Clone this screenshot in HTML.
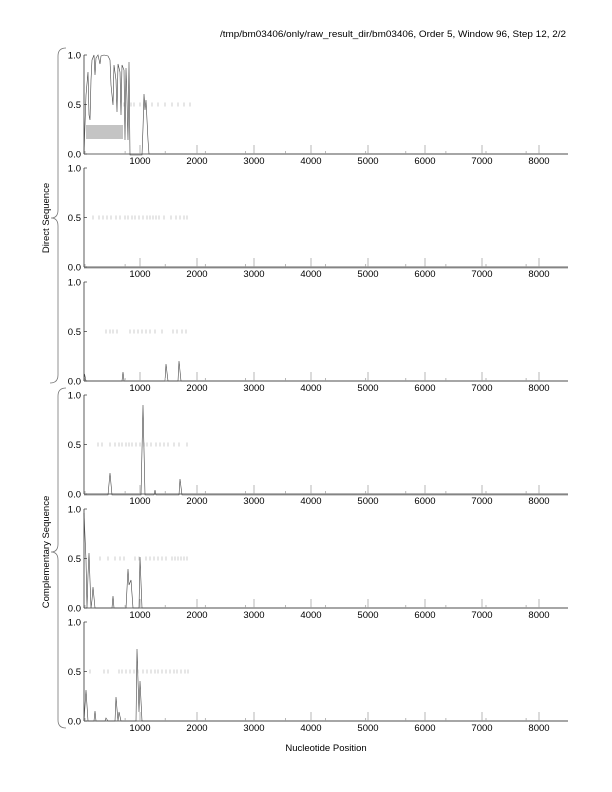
<!DOCTYPE html>
<html><head><meta charset="utf-8"><style>
html,body{margin:0;padding:0;background:#fff;}
svg{display:block;font-family:"Liberation Sans",sans-serif;}
</style></head><body>
<svg id="s" width="612" height="792" viewBox="0 0 612 792" xmlns="http://www.w3.org/2000/svg">
<text x="566" y="37" font-size="9.5" text-anchor="end" textLength="346" lengthAdjust="spacingAndGlyphs">/tmp/bm03406/only/raw_result_dir/bm03406, Order 5, Window 96, Step 12, 2/2</text>
<text x="326" y="751" font-size="9.5" text-anchor="middle">Nucleotide Position</text>
<text transform="translate(49,218) rotate(-90)" font-size="9.5" text-anchor="middle">Direct Sequence</text>
<text transform="translate(49,552) rotate(-90)" font-size="9.5" text-anchor="middle">Complementary Sequence</text>
<path d="M66,48 Q58,48 58,56 L58,210 Q58,218 51,218 Q58,218 58,226 L58,375 Q58,383 50,383" fill="none" stroke="#777" stroke-width="0.8"/>
<path d="M66,388 Q58,388 58,396 L58,544 Q58,552 51,552 Q58,552 58,560 L58,720 Q58,728 66,728" fill="none" stroke="#777" stroke-width="0.8"/>
<g id="g"></g>
</svg>
<script>
var g=document.getElementById('g'),NS='http://www.w3.org/2000/svg';
function el(t,a,txt){var e=document.createElementNS(NS,t);for(var k in a)e.setAttribute(k,a[k]);if(txt)e.textContent=txt;g.appendChild(e);return e;}
var tops=[55,168,282,395,509,622],H=99;
function X(v){return 83+v*0.057;}
var dashes=[
[121,124,131,134,140,152,158,165,172,178,184,190],
[93,99,103,107,111,116,120,125,128,132,135,139,143,147,150,153,156,159,164,171,176,180,184,187],
[106,110,113,117,130,134,138,142,146,150,155,162,173,177,182,186],
[98,102,110,115,119,122,126,129,132,136,140,144,147,151,156,160,164,168,174,179,187],
[100,108,115,120,124,135,139,146,150,154,158,162,166,172,175,178,181,184,187],
[90,104,108,119,122,126,130,134,138,143,147,151,155,158,162,166,170,174,177,181,185,188]];
var curves=[
"84,154 86,95 88,72 89,115 90,120 91,80 92,60 94,55 95,75 96,58 98,55 100,64 101,56 104,55 108,56 110,60 111,85 113,105 114,65 116,80 117,112 118,64 120,72 121,115 122,65 124,70 125,140 126,68 127,100 128,140 129,62 130,155 142,155 143,128 144,94 145,110 146,100 147,120 148,140 149,154 568,154",
"84,268 568,268",
"84,381 84.5,374 86,381 122,381 123,372 124,381 165,381 166,364 168,381 178,381 179,361 181,381 568,381",
"84,495 108,495 110,473 112,495 141,495 143,405 145,495 154,495 155,490 156,495 179,495 180,479 182,495 568,495",
"84,513 86,560 87,608 88,575 89,553 91,608 92,600 93,587 95,608 112,608 113,596 114,608 126,608 128,569 129,585 131,580 133,608 139,608 140,557 142,608 568,608",
"84,721 86,690 88,721 94,721 95,711 96,721 105,721 106,718 108,721 115,721 116,697 118,721 119,712 121,721 136,721 137,649 139,712 140,681 142,721 568,721"];
tops.forEach(function(T,i){
 var B=T+H;
 if(i==0) el('rect',{x:86,y:125,width:37,height:14,fill:'#c4c4c4'});
 dashes[i].forEach(function(x){el('line',{x1:x,y1:T+H/2-2,x2:x,y2:T+H/2+2,stroke:'#999','stroke-width':0.5});});
 el('polyline',{points:curves[i],fill:'none',stroke:'#444','stroke-width':0.6});
 el('line',{x1:84,y1:T,x2:84,y2:B,stroke:'#333','stroke-width':0.8});
 el('line',{x1:84,y1:B,x2:568,y2:B,stroke:'#333','stroke-width':0.8});
 [[T,'1.0'],[T+H/2,'0.5'],[B,'0.0']].forEach(function(p){
  el('line',{x1:84,y1:p[0],x2:87,y2:p[0],stroke:'#333','stroke-width':0.7});
  el('text',{x:81,y:p[0]+3.5,'font-size':9.5,'text-anchor':'end'},p[1]);
 });
 for(var k=1;k<=8;k++){var x=X(k*1000);
  el('line',{x1:x,y1:B-9,x2:x,y2:B,stroke:'#999','stroke-width':0.7});
  el('text',{x:x,y:B+10,'font-size':9.5,'text-anchor':'middle'},String(k*1000));}
 for(var m=85;m<=566;m+=40.1){el('line',{x1:m,y1:B-3,x2:m,y2:B,stroke:'#999','stroke-width':0.7});}
});
</script>
</body></html>
